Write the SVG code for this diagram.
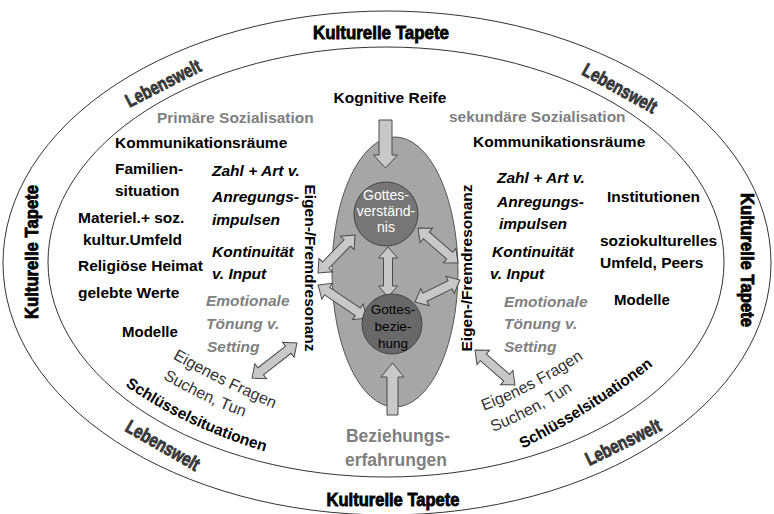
<svg xmlns="http://www.w3.org/2000/svg" width="774" height="514" viewBox="0 0 774 514">
<style>
text { font-family: "Liberation Sans", Arial, sans-serif; }
.b { font-weight: bold; font-size: 15.5px; fill: #000; }
.gr { fill: #7f7f7f; }
.it { font-style: italic; }
.imp { font-weight: bold; font-size: 18px; fill: #000; stroke: #000; stroke-width: 0.8; }
.leb { font-weight: bold; font-size: 19px; fill: #383838; stroke: #383838; stroke-width: 0.8; }
.res { font-weight: bold; font-size: 15.5px; fill: #000; }
.arr { fill: #c8c8c8; stroke: #4a4a4a; stroke-width: 1; }
.ring { fill: none; stroke: #333; stroke-width: 1; }
.reg { font-size: 16px; fill: #333; }
.key { font-weight: bold; font-size: 15.5px; fill: #000; }
.ctr { text-anchor: middle; }
</style>
<defs>
<path id="pefL" d="M 167 355 Q 220 386 280 411"/>
<path id="pstL" d="M 157 375 Q 203 403 250 419"/>
<path id="pssL" d="M 121 383 Q 185 428 270 453"/>
<path id="pefR" d="M 480 412 Q 533 393 587 356"/>
<path id="pstR" d="M 493 432 Q 535 415 573 390"/>
<path id="pssR" d="M 522 449 Q 592 413 654 365"/>
</defs>

<g id="outer-ellipse">
<ellipse class="ring" cx="387" cy="263" rx="384" ry="252"/>
</g>
<g id="inner-ellipse">
<ellipse class="ring" cx="386" cy="262" rx="338" ry="215"/>
</g>

<g id="kulturelle-tapete">
<text class="imp ctr" x="381" y="39" textLength="136" lengthAdjust="spacingAndGlyphs">Kulturelle Tapete</text>
<text class="imp ctr" x="393" y="506" textLength="133" lengthAdjust="spacingAndGlyphs">Kulturelle Tapete</text>
<text class="imp ctr" transform="translate(31,252) rotate(-90)" x="0" y="6.5" textLength="134" lengthAdjust="spacingAndGlyphs">Kulturelle Tapete</text>
<text class="imp ctr" transform="translate(747,260) rotate(90)" x="0" y="6.5" textLength="134" lengthAdjust="spacingAndGlyphs">Kulturelle Tapete</text>
</g>

<g id="lebenswelt">
<text class="leb ctr" transform="translate(163,83) rotate(-27)" x="0" y="6.8" textLength="82" lengthAdjust="spacingAndGlyphs">Lebenswelt</text>
<text class="leb ctr" transform="translate(620,88) rotate(29)" x="0" y="6.8" textLength="82" lengthAdjust="spacingAndGlyphs">Lebenswelt</text>
<text class="leb ctr" transform="translate(163,445) rotate(30)" x="0" y="6.8" textLength="82" lengthAdjust="spacingAndGlyphs">Lebenswelt</text>
<text class="leb ctr" transform="translate(623,442) rotate(-26)" x="0" y="6.8" textLength="82" lengthAdjust="spacingAndGlyphs">Lebenswelt</text>
</g>

<g id="kern">
<ellipse cx="395" cy="272" rx="63" ry="135" fill="#a6a6a6" stroke="#555" stroke-width="1"/>
</g>

<g id="connectors">
<polygon class="arr" points="379,120 392,120 392,155 397.5,155 385.5,168 373.5,155 379,155"/>
<polygon class="arr" points="387,415 398,415 398,377 404,377 392.5,363 381,377 387,377"/>
<path class="arr" transform="translate(388,272) rotate(90)" d="M-25,0 L-14,-9.5 L-14,-4.5 L14,-4.5 L14,-9.5 L25,0 L14,9.5 L14,4.5 L-14,4.5 L-14,9.5 Z"/>
<path class="arr" transform="translate(336.5,254) rotate(-45.8)" d="M-26.5,0 L-15.5,-9.5 L-15.5,-4.5 L15.5,-4.5 L15.5,-9.5 L26.5,0 L15.5,9.5 L15.5,4.5 L-15.5,4.5 L-15.5,9.5 Z"/>
<path class="arr" transform="translate(342.5,301.5) rotate(34)" d="M-29.5,0 L-18.5,-9.5 L-18.5,-4.5 L18.5,-4.5 L18.5,-9.5 L29.5,0 L18.5,9.5 L18.5,4.5 L-18.5,4.5 L-18.5,9.5 Z"/>
<path class="arr" transform="translate(438,245.5) rotate(41)" d="M-26.5,0 L-15.5,-9.5 L-15.5,-4.5 L15.5,-4.5 L15.5,-9.5 L26.5,0 L15.5,9.5 L15.5,4.5 L-15.5,4.5 L-15.5,9.5 Z"/>
<path class="arr" transform="translate(437.5,291) rotate(-26)" d="M-25,0 L-14,-9.5 L-14,-4.5 L14,-4.5 L14,-9.5 L25,0 L14,9.5 L14,4.5 L-14,4.5 L-14,9.5 Z"/>
<path class="arr" transform="translate(274.5,360.5) rotate(-38)" d="M-28.5,0 L-17.5,-9.5 L-17.5,-4.5 L17.5,-4.5 L17.5,-9.5 L28.5,0 L17.5,9.5 L17.5,4.5 L-17.5,4.5 L-17.5,9.5 Z"/>
<path class="arr" transform="translate(495,367.5) rotate(41)" d="M-26.5,0 L-15.5,-9.5 L-15.5,-4.5 L15.5,-4.5 L15.5,-9.5 L26.5,0 L15.5,9.5 L15.5,4.5 L-15.5,4.5 L-15.5,9.5 Z"/>
</g>

<g id="gottesverstaendnis">
<circle cx="386" cy="214" r="32" fill="#767676" stroke="#444" stroke-width="1"/>
<text class="ctr" x="386" y="200" font-size="14" fill="#fff">Gottes-</text>
<text class="ctr" x="386" y="216" font-size="14" fill="#fff">verständ-</text>
<text class="ctr" x="386" y="232" font-size="14" fill="#fff">nis</text>
</g>

<g id="gottesbeziehung">
<circle cx="392" cy="324" r="30" fill="#686868" stroke="#444" stroke-width="1"/>
<text class="ctr" x="393" y="314" font-size="13.5" fill="#000">Gottes-</text>
<text class="ctr" x="393" y="331" font-size="13.5" fill="#000">bezie-</text>
<text class="ctr" x="393" y="348" font-size="13.5" fill="#000">hung</text>
</g>

<g id="kognitive-reife">
<text class="b ctr" x="390" y="103">Kognitive Reife</text>
</g>

<g id="beziehungserfahrungen">
<text class="b gr ctr" x="398" y="442" style="font-size:17.5px">Beziehungs-</text>
<text class="b gr ctr" x="396" y="466" style="font-size:17.5px">erfahrungen</text>
</g>

<g id="resonanz-links">
<text class="res ctr" transform="translate(305,268) rotate(90)" x="0" y="0">Eigen-/Fremdresonanz</text>
</g>
<g id="resonanz-rechts">
<text class="res ctr" transform="translate(472,268) rotate(-90)" x="0" y="0">Eigen-/Fremdresonanz</text>
</g>

<g id="primaere-sozialisation">
<text class="b gr" x="157" y="123">Primäre Sozialisation</text>
<text class="b" x="115" y="148">Kommunikationsräume</text>
<text class="b" x="115" y="174">Familien-</text>
<text class="b" x="115" y="196">situation</text>
<text class="b" x="78" y="223">Materiel.+ soz.</text>
<text class="b" x="83" y="245">kultur.Umfeld</text>
<text class="b" x="78" y="271">Religiöse Heimat</text>
<text class="b" x="78" y="298">gelebte Werte</text>
<text class="b" x="122" y="337" style="font-size:15px">Modelle</text>
</g>

<g id="anregung-links">
<text class="b it" x="212" y="176">Zahl + Art v.</text>
<text class="b it" x="212" y="202">Anregungs-</text>
<text class="b it" x="212" y="225">impulsen</text>
<text class="b it" x="212" y="257">Kontinuität</text>
<text class="b it" x="212" y="279">v. Input</text>
<text class="b it gr" x="206" y="306">Emotionale</text>
<text class="b it gr" x="206" y="329">Tönung v.</text>
<text class="b it gr" x="207" y="352">Setting</text>
</g>

<g id="sekundaere-sozialisation">
<text class="b gr" x="449" y="122">sekundäre Sozialisation</text>
<text class="b" x="473" y="147">Kommunikationsräume</text>
<text class="b" x="607" y="202">Institutionen</text>
<text class="b" x="600" y="246">soziokulturelles</text>
<text class="b" x="600" y="268">Umfeld, Peers</text>
<text class="b" x="614" y="305" style="font-size:15px">Modelle</text>
</g>

<g id="anregung-rechts">
<text class="b it" x="497" y="183">Zahl + Art v.</text>
<text class="b it" x="497" y="207">Anregungs-</text>
<text class="b it" x="499" y="229">impulsen</text>
<text class="b it" x="492" y="257">Kontinuität</text>
<text class="b it" x="490" y="279">v. Input</text>
<text class="b it gr" x="504" y="307">Emotionale</text>
<text class="b it gr" x="504" y="329">Tönung v.</text>
<text class="b it gr" x="504" y="352">Setting</text>
</g>

<g id="eigenes-links">
<text class="reg"><textPath href="#pefL" startOffset="50%" text-anchor="middle">Eigenes Fragen</textPath></text>
<text class="reg"><textPath href="#pstL" startOffset="50%" text-anchor="middle">Suchen, Tun</textPath></text>
<text class="key"><textPath href="#pssL" startOffset="50%" text-anchor="middle">Schlüsselsituationen</textPath></text>
</g>

<g id="eigenes-rechts">
<text class="reg"><textPath href="#pefR" startOffset="50%" text-anchor="middle">Eigenes Fragen</textPath></text>
<text class="reg"><textPath href="#pstR" startOffset="50%" text-anchor="middle">Suchen, Tun</textPath></text>
<text class="key"><textPath href="#pssR" startOffset="50%" text-anchor="middle">Schlüsselsituationen</textPath></text>
</g>
</svg>
